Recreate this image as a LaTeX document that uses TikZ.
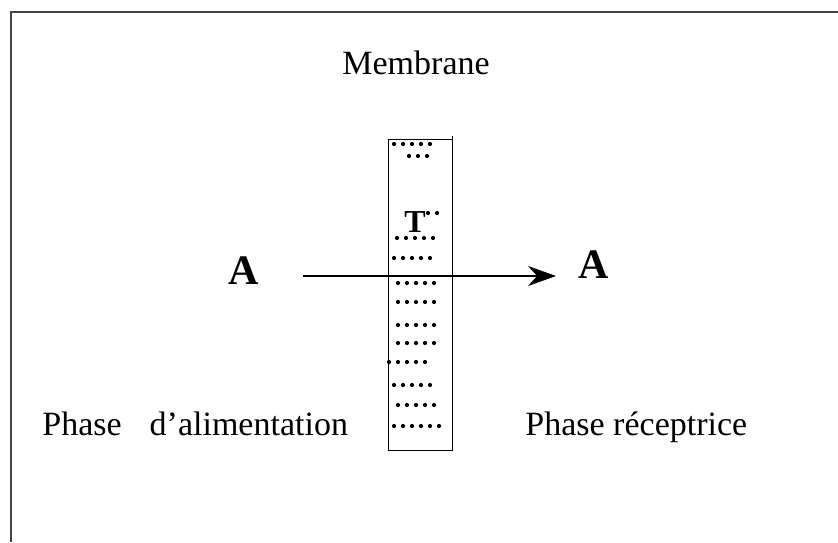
\documentclass[tikz,border=0pt]{standalone}
\usepackage{fontspec}
\setmainfont{Liberation Serif}
\usetikzlibrary{arrows.meta}
\definecolor{Cadre}{HTML}{444444}

\begin{document}
\begin{tikzpicture}[x=0.5pt,y=-0.5pt,
    texte/.style={anchor=base west,inner sep=0pt,font=\fontsize{17}{20}\selectfont},
    espece/.style={anchor=base west,inner sep=0pt,font=\fontsize{21}{24}\selectfont\bfseries},
    grain/.style={fill=black}]
    \useasboundingbox (0,0) rectangle (838,542);
    \draw[Cadre,line width=0.8pt] (11,542) -- (11,12) -- (838,12);
    \draw[line width=0.5pt] (452,136) -- (452,450) -- (388,450) -- (388,139) -- (452,139);
    \foreach \y/\x/\n in {144/394/5,156/409/3,213/428/2,238/397/5,258/394/5,283/398/5,
      302/398/5,325/398/5,343/398/5,362/389/5,385/394/5,405/398/5,426/394/6}
      \foreach \k in {1,...,\n}
        \fill[grain] (\x+9*\k-9,\y) circle[radius=1.05pt];
    \node[anchor=base,inner sep=0pt,font=\fontsize{16}{18}\selectfont\bfseries] (porteur) at (415,232) {T};
    \node[texte] (membrane) at (342,74) {Membrane};
    \node[texte] (alim) at (42,435) {Phase\hspace{14pt}d’alimentation};
    \node[texte] (recept) at (525,435) {Phase réceptrice};
    \node[espece] (aalim) at (228,284) {A};
    \node[espece] (arecept) at (578,278) {A};
    \coordinate (fluxin) at (303,276);
    \coordinate (fluxout) at (556,276);
    \draw[-{Stealth[length=14pt,width=10pt]},line width=0.6pt] (fluxin) -- (fluxout);
\end{tikzpicture}
\end{document}
